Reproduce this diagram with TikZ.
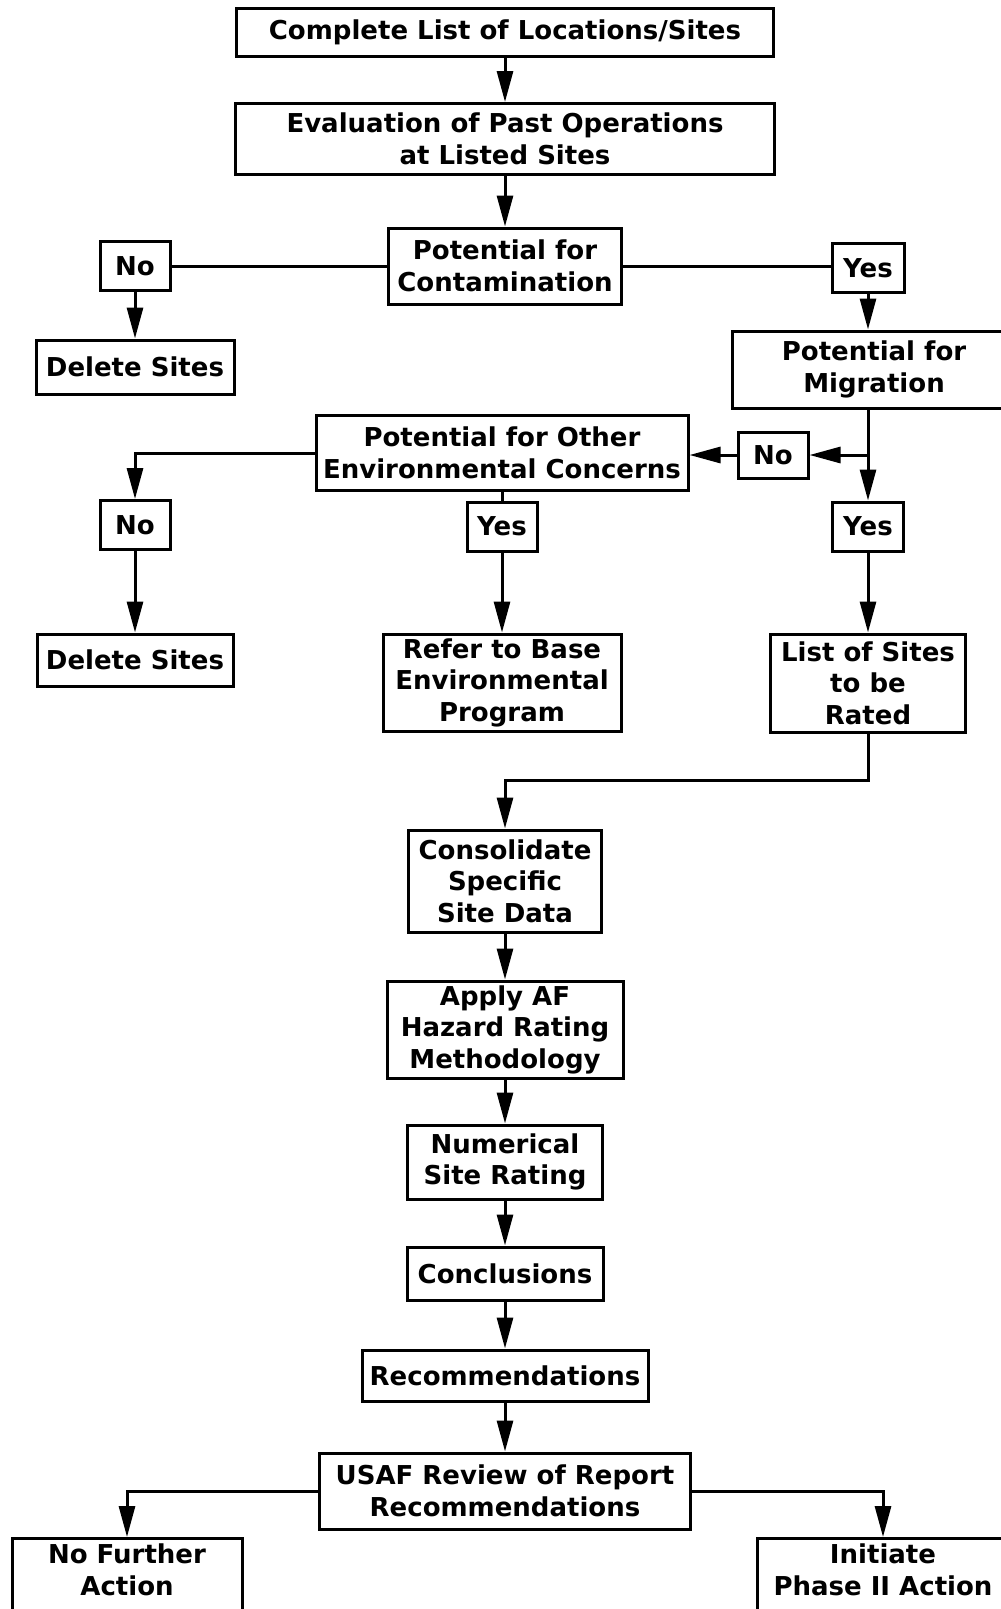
\documentclass[tikz,border=0pt]{standalone}
\usepackage{fontspec}
\setmainfont{DejaVu Sans}
\usetikzlibrary{
  arrows.meta,
  calc,         % Projections (a |- b)
}
\def\mylw{3pt}
\tikzset{
  x=1pt,y=-1pt,
  >={Triangle[length=31pt,width=16pt]},
  my line/.style={
    line width=3pt
  },
  my arrow/.style={
    my line,
    -{Triangle[length=31pt,width=16pt]}
  },
  my box/.style={
    draw,
    line width=\mylw,
    align=center,
    inner sep=2pt,
    font=\bfseries\fontsize{26}{31.5}\selectfont,
    rectangle
  },
  my answer/.style={
    my box,
    minimum width=70pt,
    minimum height=49pt
  },
  my end/.style={
    my box,
    anchor=north,
    text depth=18pt,
    minimum height=80pt
  }
}

\begin{document}
\begin{tikzpicture}
\useasboundingbox (0,0) rectangle (1001,1609);
% main column
\node[my box,minimum width=537pt,minimum height=48pt]  (top)    at (505,32)   {Complete List of Locations/Sites};
\node[my box,minimum width=539pt,minimum height=71pt]  (eval)   at (505,139)  {Evaluation of Past Operations\\at Listed Sites};
\node[my box,minimum width=233pt,minimum height=76pt]  (contam) at (505,266)  {Potential for\\Contamination};
\node[my answer]                                       (no1)    at (135,266)  {No};
\node[my answer,minimum width=72pt]                    (yes1)   at (868,268)  {Yes};
\node[my box,minimum width=198pt,minimum height=54pt]  (del1)   at (135,367)  {Delete Sites};
\node[my box,minimum width=284pt,minimum height=77pt]  (mig)    at (874,369.5){Potential for\\Migration};
\node[my box,minimum width=372pt,minimum height=75pt]  (other)  at (502,453)  {Potential for Other\\Environmental Concerns};
\node[my answer,minimum height=46pt]                   (no2)    at (773,455)  {No};
\coordinate                                            (jn)     at (868,455);
\node[my answer]                                       (no3)    at (135,525)  {No};
\node[my answer]                                       (yes3)   at (502,526.5){Yes};
\node[my answer,minimum width=71pt]                    (yes2)   at (868,526.5){Yes};
\node[my box,minimum width=196pt,minimum height=52pt]  (del2)   at (135,660)  {Delete Sites};
\node[my box,minimum width=238pt,minimum height=97pt]  (refer)  at (502,682.5){Refer to Base\\Environmental\\Program};
\node[my box,minimum width=195pt,minimum height=98pt]  (list)   at (868,683)  {List of Sites\\to be\\Rated};
\coordinate                                            (elb)    at (505,780);
\node[my box,minimum width=193pt,minimum height=102pt] (cons)   at (505,881)  {Consolidate\\Specific\\Site Data};
\node[my box,minimum width=236pt,minimum height=97pt]  (apply)  at (505,1029.5){Apply AF\\Hazard Rating\\Methodology};
\node[my box,minimum width=195pt,minimum height=74pt]  (num)    at (505,1162) {Numerical\\Site Rating};
\node[my box,minimum width=196pt,minimum height=53pt]  (concl)  at (505,1273.5){Conclusions};
\node[my box,minimum width=286pt,minimum height=51pt]  (recs)   at (505,1375.5){Recommendations};
\node[my box,minimum width=371pt,minimum height=76pt]  (usaf)   at (505,1491) {USAF Review of Report\\Recommendations};
\node[my end,minimum width=230pt]                      (nfa)    at (127,1537) {No Further\\Action};
\node[my end,minimum width=252pt]                      (ph2)    at (883,1537) {Initiate\\Phase II Action};
% connectors
\begin{scope}[line width=3pt]
\draw[my arrow] (top) -- (eval);
\draw[my arrow] (eval) -- (contam);
\draw[my line]  (contam) -- (no1);
\draw[my line]  (contam.east) -- (contam.east -| yes1.west);
\draw[my arrow] (no1) -- (del1);
\draw[my arrow] (yes1) -- (yes1 |- mig.north);
\draw[my arrow] (yes2 |- mig.south) -- (yes2);
\draw[my arrow] (jn) -- (no2);
\draw[my arrow] (no2.west) -- (no2.west -| other.east);
\draw[my arrow] (other.west) -| (no3.north);
\draw[my line]  (other) -- (yes3);
\draw[my arrow] (no3) -- (del2);
\draw[my arrow] (yes3) -- (refer);
\draw[my arrow] (yes2) -- (list);
\draw[my arrow] (list.south) |- (elb) -- (cons.north);
\foreach \a/\b in {cons/apply,apply/num,num/concl,concl/recs,recs/usaf}
  \draw[my arrow] (\a) -- (\b);
\draw[my arrow] (usaf.west) -| (nfa.north);
\draw[my arrow] (usaf.east) -| (ph2.north);
\end{scope}
\end{tikzpicture}
\end{document}
